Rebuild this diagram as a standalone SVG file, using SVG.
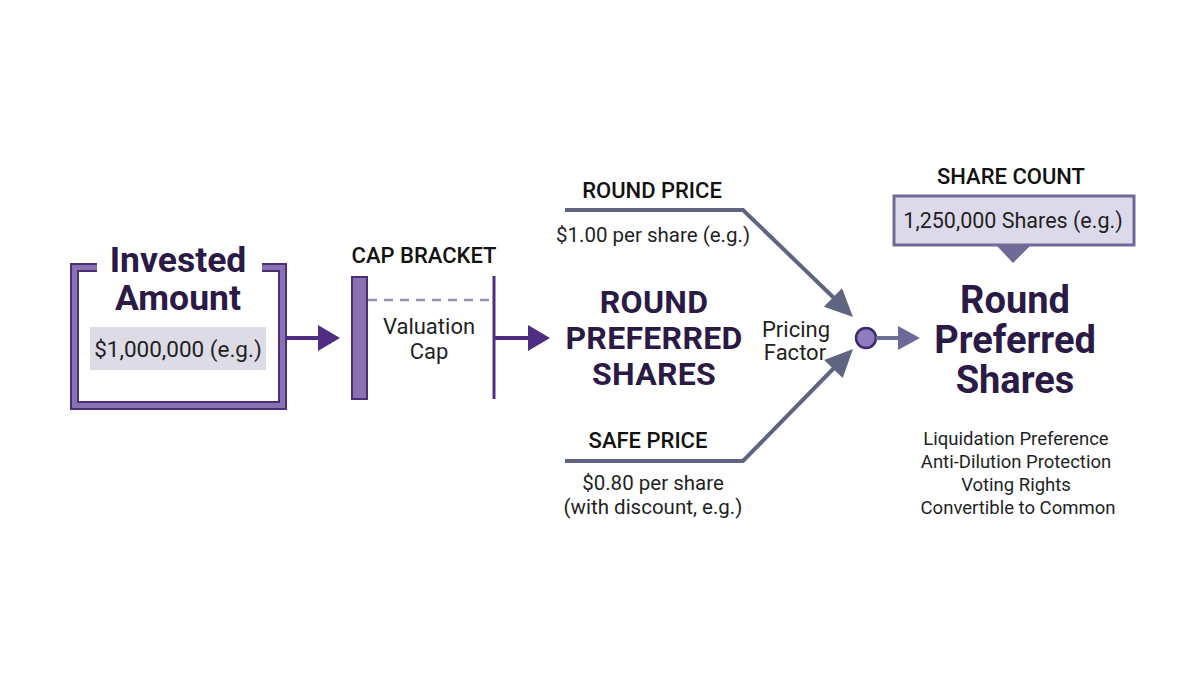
<svg xmlns="http://www.w3.org/2000/svg" width="1200" height="675" viewBox="0 0 1200 675">
<style>
text{font-family:Roboto,"Liberation Sans",sans-serif;fill:#2a1a45;text-anchor:middle}
.h{font-weight:700}
.lbl{font-size:22px;font-weight:500;fill:#111}
.sm{font-size:20.5px;fill:#1f1f1f}
.dk{stroke:#4f2d82;fill:none}
.sl{stroke:#5f6580;fill:none;stroke-width:4}
</style>
<rect width="1200" height="675" fill="#fff"/>
<g id="invested">
<path d="M97,267.5 H74.5 V405.5 H282.5 V267.5 H262" fill="none" stroke="#4a2f78" stroke-width="9"/>
<path d="M97,267.5 H74.5 V405.5 H282.5 V267.5 H262" fill="none" stroke="#8a72b0" stroke-width="5"/>
<text x="178" y="272" class="h" font-size="35.5">Invested</text>
<text x="178" y="310" class="h" font-size="35.5">Amount</text>
<rect x="90" y="327" width="176" height="43" fill="#dddbe6"/>
<text x="178" y="357" class="sm" style="font-size:22.5px">$1,000,000 (e.g.)</text>
</g>
<g id="cap">
<text x="424" y="263" class="lbl">CAP BRACKET</text>
<rect x="352" y="277" width="15" height="122" fill="#8a72b0" stroke="#4a2f78" stroke-width="2"/>
<line x1="368" y1="300" x2="494" y2="300" stroke="#9a8fb5" stroke-width="2.5" stroke-dasharray="9,7"/>
<line x1="494" y1="276" x2="494" y2="399" stroke="#4f2d82" stroke-width="3"/>
<text x="429" y="334" class="sm" style="font-size:22px">Valuation</text>
<text x="429" y="359" class="sm" style="font-size:22px">Cap</text>
</g>
<g id="round-center">
<text x="654" y="313" class="h" font-size="32" letter-spacing="0.3">ROUND</text>
<text x="654" y="349" class="h" font-size="32" letter-spacing="0.3">PREFERRED</text>
<text x="654" y="385" class="h" font-size="32" letter-spacing="0.3">SHARES</text>
</g>
<g id="round-price">
<text x="652" y="198" class="lbl">ROUND PRICE</text>
<text x="653" y="242" class="sm">$1.00 per share (e.g.)</text>
</g>
<g id="safe-price">
<text x="648" y="448" class="lbl">SAFE PRICE</text>
<text x="653" y="490" class="sm">$0.80 per share</text>
<text x="653" y="514" class="sm">(with discount, e.g.)</text>
</g>
<g id="pricing">
<text x="796" y="337" class="sm" style="font-size:22px">Pricing</text>
<text x="795" y="360" class="sm" style="font-size:22px">Factor</text>
<circle cx="866" cy="338" r="10" fill="#8f7cbf" stroke="#3d2a6e" stroke-width="2.5"/>
</g>
<g id="share-count">
<text x="1011" y="184" class="lbl">SHARE COUNT</text>
<rect x="894" y="196" width="240" height="49" fill="#dcd9ea" stroke="#6f6a98" stroke-width="3"/>
<text x="1013" y="228" class="sm" style="font-size:21.5px">1,250,000 Shares (e.g.)</text>
<polygon points="997,246 1030,246 1013,263" fill="#6f6a98"/>
</g>
<g id="result">
<text x="1015" y="313" class="h" font-size="38">Round</text>
<text x="1015" y="353" class="h" font-size="38">Preferred</text>
<text x="1015" y="393" class="h" font-size="38">Shares</text>
<text x="1016" y="445" class="sm" style="font-size:18.5px">Liquidation Preference</text>
<text x="1016" y="468" class="sm" style="font-size:18.5px">Anti-Dilution Protection</text>
<text x="1016" y="491" class="sm" style="font-size:18.5px">Voting Rights</text>
<text x="1018" y="514" class="sm" style="font-size:18.5px">Convertible to Common</text>
</g>
<g id="connectors">
<line x1="287" y1="338" x2="320" y2="338" class="dk" stroke-width="4"/>
<polygon points="318,325 340,338 318,351" fill="#4f2d82"/>
<line x1="494" y1="338" x2="530" y2="338" class="dk" stroke-width="4"/>
<polygon points="528,325 550,338 528,351" fill="#4f2d82"/>
<polyline points="565,210 743,210 834,298" class="sl"/>
<polygon points="853,317 823.8,306.8 842,288.2" fill="#5f6580"/>
<polyline points="565,461 743,461 834,368" class="sl"/>
<polygon points="853,349 842.7,378.1 824.1,359.9" fill="#5f6580"/>
<line x1="876" y1="338" x2="900" y2="338" stroke="#6b6f94" stroke-width="4"/>
<polygon points="898,326 920,338 898,350" fill="#6e6a98"/>
</g>
</svg>
